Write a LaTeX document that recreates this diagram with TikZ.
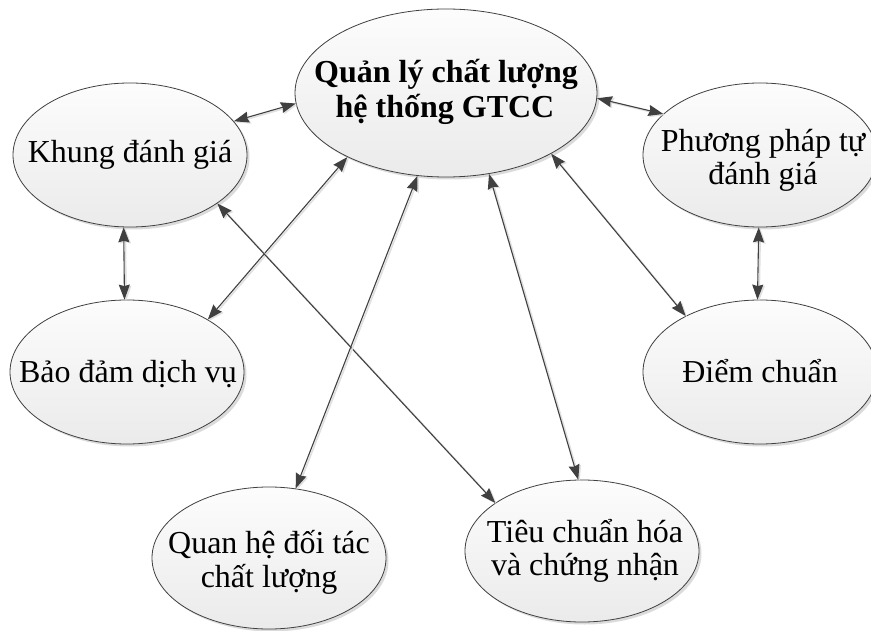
\documentclass[tikz,border=0pt]{standalone}
\usepackage{fontspec}
\setmainfont{Liberation Serif}
\usetikzlibrary{arrows.meta,shadows,shapes.geometric}
\definecolor{edgegray}{HTML}{404040}
\begin{document}
\begin{tikzpicture}[x=1pt,y=-1pt,
  blob/.style={ellipse, draw=edgegray, line width=0.8pt, inner sep=0pt,
    top color=white!99!black, bottom color=white!92!black,
    minimum width=234pt, minimum height=144pt,
    drop shadow={shadow xshift=2.5pt, shadow yshift=-2.5pt, fill=black!14, opacity=1}},
  lbl/.style={anchor=base, inner sep=0pt, font=\fontsize{32}{38}\selectfont},
  link/.style={draw=edgegray, line width=1.1pt,
    arrows={Stealth[length=15pt,width=11pt,inset=1.5pt]-Stealth[length=15pt,width=11pt,inset=1.5pt]},
    preaction={draw=black!12, line width=1.6pt, transform canvas={xshift=1.6pt,yshift=-1.2pt}}}]
\useasboundingbox[fill=white] (0,0) rectangle (871,631);

% ellipses
\node[blob, minimum width=302pt, minimum height=168pt] (top) at (446,93) {};
\node[blob] (khung) at (130,155) {};
\node[blob] (pp) at (760,155) {};
\node[blob] (bd) at (127,372) {};
\node[blob] (dc) at (760,372) {};
\node[blob, minimum height=142pt] (qh) at (269,558) {};
\node[blob, minimum height=142pt] (tc) at (582,551) {};

% connectors
\draw[link] (khung.18.3) -- (top.184.5);
\draw[link] (top.-2.6) -- (pp.157.8);
\draw[link] (khung.-95.5) -- (bd.92.4);
\draw[link] (pp.-91.6) -- (dc.92.4);
\draw[link] (top.-147) -- (bd.33);
\draw[link] (khung.-29.1) -- (tc.151.2);
\draw[link] (top.-30) -- (dc.143.7);
\draw[link] (top.-62.4) -- (tc.93.1);
\draw[link] (top.-109) -- (qh.69);

% texts
\node[lbl, font=\fontsize{32}{38}\selectfont\bfseries] (top1) at (446,83) {Quản lý chất lượng};
\node[lbl, font=\fontsize{32}{38}\selectfont\bfseries] (top2) at (445,118) {hệ thống GTCC};
\node[lbl] (khung1) at (130,163) {Khung đánh giá};
\node[lbl] (pp1) at (763,152) {Phương pháp tự};
\node[lbl] (pp2) at (763,185) {đánh giá};
\node[lbl] (bd1) at (128,382) {Bảo đảm dịch vụ};
\node[lbl] (dc1) at (760,382) {Điểm chuẩn};
\node[lbl] (qh1) at (269,553) {Quan hệ đối tác};
\node[lbl] (qh2) at (269,587) {chất lượng};
\node[lbl] (tc1) at (585,542) {Tiêu chuẩn hóa};
\node[lbl] (tc2) at (585,575) {và chứng nhận};
\end{tikzpicture}
\end{document}
